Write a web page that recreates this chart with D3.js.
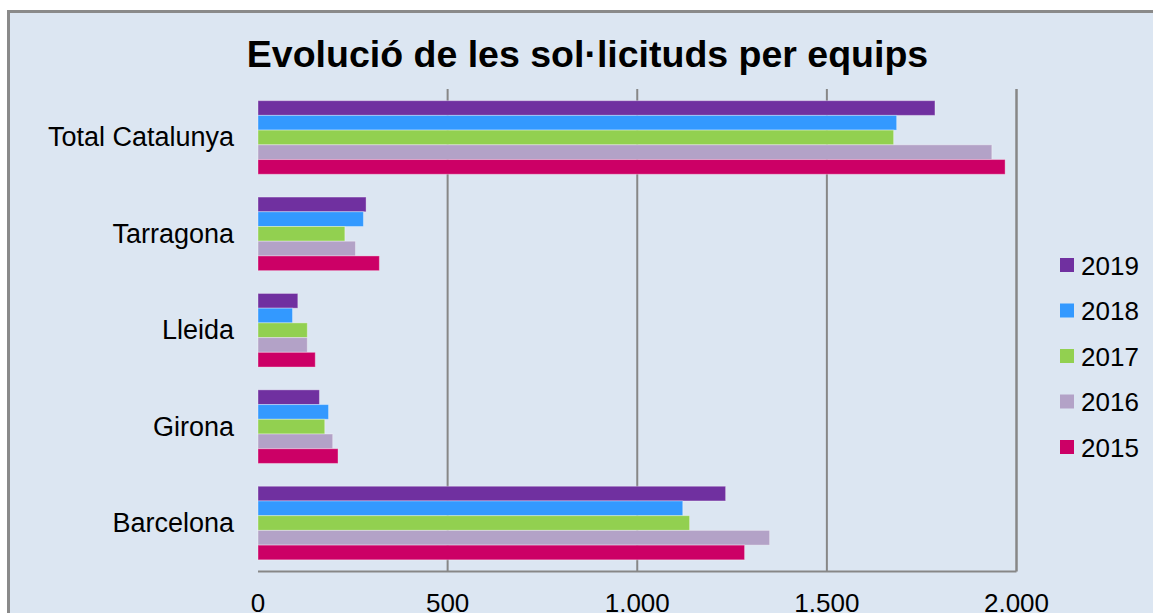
<!DOCTYPE html>
<html>
<head>
<meta charset="utf-8">
<script src="https://cdn.jsdelivr.net/npm/d3@7"></script>
<style>
  html, body { margin: 0; padding: 0; background: #ffffff; }
  svg { display: block; font-family: Arial, "Liberation Sans", sans-serif; }
  .tick-lbl, .leg { font-size: 26px; fill: #000; }
  .cat { font-size: 27px; fill: #000; }
  .title { font-size: 37.5px; font-weight: bold; fill: #000; }
</style>
</head>
<body>
<div id="root"></div>
<script>
// Categories (top to bottom) and years (top to bottom within each group)
const categories = ['Total Catalunya', 'Tarragona', 'Lleida', 'Girona', 'Barcelona'];
const years = ['2019', '2018', '2017', '2016', '2015'];
const yearColors = ['#7030a0', '#3399ff', '#92d050', '#b3a2c7', '#cc0066'];

// values per year, same order as categories
const v2019 = [1785, 285, 105, 162, 1233];
const v2018 = [1684, 278, 91, 186, 1120];
const v2017 = [1676, 229, 130, 176, 1138];
const v2016 = [1935, 257, 130, 197, 1349];
const v2015 = [1970, 320, 151, 211, 1283];

const xTicks = [0, 500, 1000, 1500, 2000];
const tickLabels = ['0', '500', '1.000', '1.500', '2.000'];
const title = 'Evolució de les sol·licituds per equips';

const seriesVals = [v2019, v2018, v2017, v2016, v2015];

const W = 1153, H = 613;
const m = { top: 89, bottom: 571.5, left: 258, right: 1016.5 };

const svg = d3.select('#root').append('svg').attr('width', W).attr('height', H);

// fons del gràfic
svg.append('rect')
  .attr('x', 8.5).attr('y', 11.5).attr('width', 1200).attr('height', 700)
  .attr('fill', '#dce6f2').attr('stroke', '#8a8a8a').attr('stroke-width', 3);

svg.append('text').attr('class', 'title')
  .attr('x', 587.5).attr('y', 67).attr('text-anchor', 'middle').text(title);

const x = d3.scaleLinear().domain([0, 2000]).range([m.left, m.right]);
const y = d3.scaleBand().domain(categories).range([m.top, m.bottom])
  .paddingInner(0.2365).paddingOuter(0.121);
const yInner = d3.scaleBand().domain(years).range([0, y.bandwidth()]);
const color = d3.scaleOrdinal().domain(years).range(yearColors);

// línies de quadrícula
svg.append('g').selectAll('line')
  .data(xTicks.filter(t => t > 0))
  .join('line')
  .attr('x1', d => x(d)).attr('x2', d => x(d))
  .attr('y1', m.top).attr('y2', m.bottom)
  .attr('stroke', '#878787').attr('stroke-width', d => d === 2000 ? 2.5 : 2);

// barres
const rows = [];
categories.forEach((c, i) => {
  years.forEach((yr, j) => rows.push({ cat: c, year: yr, value: seriesVals[j][i] }));
});

svg.append('g').selectAll('rect')
  .data(rows)
  .join('rect')
  .attr('x', x(0))
  .attr('y', d => y(d.cat) + yInner(d.year))
  .attr('width', d => x(d.value) - x(0))
  .attr('height', yInner.bandwidth())
  .attr('fill', d => color(d.year))
  .attr('stroke', 'rgba(255,255,255,0.35)').attr('stroke-width', 1);

// eix inferior
svg.append('line')
  .attr('x1', m.left).attr('x2', m.right)
  .attr('y1', m.bottom).attr('y2', m.bottom)
  .attr('stroke', '#878787').attr('stroke-width', 2);

svg.append('g').selectAll('text')
  .data(xTicks)
  .join('text')
  .attr('class', 'tick-lbl')
  .attr('x', d => x(d)).attr('y', 612)
  .attr('text-anchor', 'middle')
  .text((d, i) => tickLabels[i]);

// etiquetes de categoria
svg.append('g').selectAll('text')
  .data(categories)
  .join('text')
  .attr('class', 'cat')
  .attr('x', 234)
  .attr('y', d => y(d) + y.bandwidth() / 2 + 9)
  .attr('text-anchor', 'end')
  .text(d => d);

// llegenda
const legend = svg.append('g');
const legY = d3.scalePoint().domain(years).range([265, 447]);
years.forEach(yr => {
  legend.append('rect')
    .attr('x', 1060).attr('y', legY(yr) - 7)
    .attr('width', 14).attr('height', 14)
    .attr('fill', color(yr));
  legend.append('text').attr('class', 'leg')
    .attr('x', 1081).attr('y', legY(yr) + 9.5)
    .text(yr);
});
</script>
</body>
</html>
